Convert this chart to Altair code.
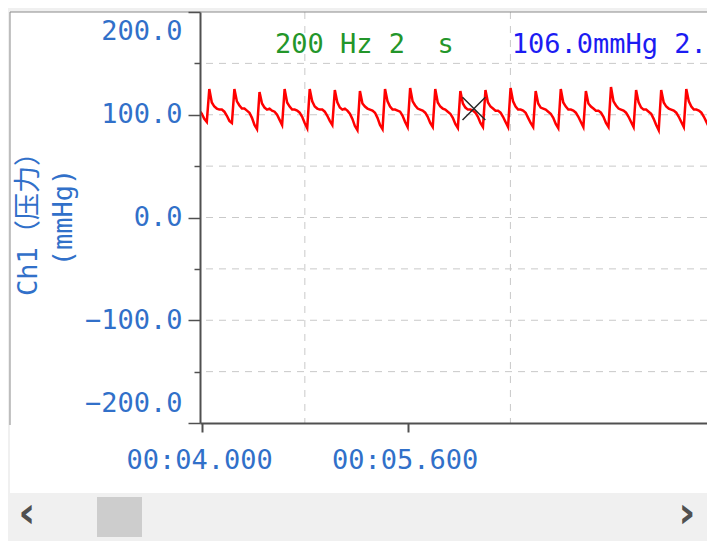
import altair as alt
import pandas as pd

# ---------------- data ----------------
SAMPLE_START = 3.9782     # s, time of first sample
SAMPLE_STEP = 0.01954     # s, sample interval of the drawn trace

pressure = [
    104, 101, 96, 93,
    125, 112, 108, 106, 105, 105, 103, 99, 94, 92,
    125, 113, 109, 106, 106, 104, 102, 97, 90, 86,
    122, 111, 107, 105, 106, 104, 103, 100, 95, 90,
    125, 112, 108, 105, 105, 104, 102, 98, 92, 87,
    125, 113, 108, 106, 105, 105, 103, 99, 94, 90,
    124, 112, 107, 105, 106, 104, 101, 96, 89, 85,
    123, 111, 108, 106, 105, 104, 102, 97, 90, 86,
    125, 113, 108, 105, 105, 104, 103, 99, 93, 88,
    126, 113, 109, 106, 105, 104, 102, 98, 92, 88,
    125, 112, 108, 106, 105, 103, 101, 97, 91, 87,
    123, 111, 107, 105, 105, 104, 102, 98, 92, 88,
    124, 112, 108, 106, 104, 104, 102, 98, 93, 88,
    126, 113, 108, 105, 105, 104, 102, 97, 92, 88,
    123, 111, 107, 106, 105, 103, 101, 97, 91, 87,
    125, 112, 108, 105, 105, 104, 102, 98, 93, 88,
    123, 111, 108, 106, 104, 104, 102, 98, 92, 88,
    127, 113, 109, 106, 105, 104, 102, 98, 93, 88,
    124, 112, 107, 105, 105, 103, 101, 96, 90, 85,
    124, 112, 108, 106, 105, 104, 102, 98, 93, 88,
    125, 113, 108, 105, 105, 104, 102, 98, 93, 88,
    124, 112, 108, 106, 105, 104, 102, 98, 93, 89,
]
time = [SAMPLE_START + i * SAMPLE_STEP for i in range(len(pressure))]

x_domain = [3.984, 7.93]
y_domain = [-200, 200]
x_tick_values = [4.0, 5.6]
x_grid_values = [4.8, 6.4]
y_tick_values = [-200, -150, -100, -50, 0, 50, 100, 150, 200]
y_grid_values = [-150, -100, -50, 0, 50, 100, 150]

cursor_t = [6.116]
cursor_p = [106.0]

note_t = [4.568, 6.41]
note_p = [168, 168]
note_text = ["200 Hz 2\u00a0\u00a0s", "106.0mmHg 2.1"]
note_color = ["#23962a", "#1c1cf2"]

y_title = ["Ch1（压力）", "(mmHg)"]

# ---------------- style ----------------
FONT = "DejaVu Sans Mono, Noto Sans CJK SC, monospace"
AXIS_BLUE = "#3170c9"
AXIS_GRAY = "#505050"
FS = 27
W, H = 507, 411

x_scale = alt.Scale(domain=x_domain, nice=False, zero=False)
y_scale = alt.Scale(domain=y_domain, nice=False, zero=False)

x_axis = alt.Axis(
    values=x_tick_values,
    labelExpr="'00:0' + format(datum.value, '.3f')",
    grid=False, title=None,
    domainColor=AXIS_GRAY, domainWidth=2,
    tickColor=AXIS_GRAY, tickWidth=2, tickSize=9,
    labelFont=FONT, labelFontSize=FS, labelColor=AXIS_BLUE,
    labelPadding=15, labelFlush=False, labelOffset=-3, zindex=1,
)
y_axis = alt.Axis(
    values=y_tick_values,
    labelExpr="datum.value % 100 === 0 ? format(datum.value, '.1f') : ''",
    grid=False,
    title=y_title,
    domainColor=AXIS_GRAY, domainWidth=2,
    tickColor=AXIS_GRAY, tickWidth=1.5,
    tickSize={"condition": {"test": "datum.value % 100 === 0", "value": 12}, "value": 6},
    labelFont=FONT, labelFontSize=FS, labelColor=AXIS_BLUE,
    labelPadding=6, labelFlush=True, labelFlushOffset=-6,
    titleFont=FONT, titleFontSize=27, titleFontWeight="normal", titleColor=AXIS_BLUE,
    titleAngle=270, titleX=-172, titleY=205, titleAnchor="middle",
    titleBaseline="middle", titleLineHeight=35, titleAlign="center",
    zindex=1,
)

X = alt.X("t:Q", scale=x_scale, axis=x_axis)
Y = alt.Y("p:Q", scale=y_scale, axis=y_axis)

one = pd.DataFrame({"k": [0]})

panel = alt.Chart(one).mark_rect(color="white").encode(
    x=alt.value(-190), x2=alt.value(W), y=alt.value(0), y2=alt.value(481)
)

hgrid = alt.Chart(pd.DataFrame({"p": y_grid_values})).mark_rule(
    color="#c9c9c9", strokeWidth=1, strokeDash=[7, 6]
).encode(y=Y)

vgrid = alt.Chart(pd.DataFrame({"t": x_grid_values})).mark_rule(
    color="#c9c9c9", strokeWidth=1, strokeDash=[7, 7]
).encode(x=X)

trace = alt.Chart(pd.DataFrame({"t": time, "p": pressure})).mark_line(
    color="#ff0000", strokeWidth=2.5, clip=True
).encode(x=X, y=Y)

cursor = alt.Chart(pd.DataFrame({"t": cursor_t, "p": cursor_p})).mark_point(
    shape="M-1,-1L1,1M-1,1L1,-1", size=520, filled=False,
    stroke="#2a2a2a", strokeWidth=1.5, opacity=1
).encode(x=X, y=Y)

notes = alt.Chart(pd.DataFrame({
    "t": note_t, "p": note_p, "txt": note_text, "c": note_color
})).mark_text(
    align="left", baseline="middle", font=FONT, fontSize=FS, clip=True
).encode(
    x=X, y=Y,
    text="txt:N",
    color=alt.Color("c:N", scale=None),
)

frame_left = alt.Chart(one).mark_rule(color="#8a8a8a", strokeWidth=1).encode(
    x=alt.value(-190), y=alt.value(0), y2=alt.value(413)
)
frame_top = alt.Chart(one).mark_rule(color="#8a8a8a", strokeWidth=1).encode(
    x=alt.value(-190), x2=alt.value(W), y=alt.value(0)
)

thumb = alt.Chart(one).mark_rect(color="#cdcdcd").encode(
    x=alt.value(-103), x2=alt.value(-58), y=alt.value(485), y2=alt.value(525)
)

arrow_style = dict(font="DejaVu Sans", fontSize=42, fontWeight="bold",
                   color="#505050", align="center", baseline="middle")
arrow_left = alt.Chart(pd.DataFrame({"a": ["‹"]})).mark_text(**arrow_style).encode(
    x=alt.value(-173), y=alt.value(502), text="a:N"
)
arrow_right = alt.Chart(pd.DataFrame({"a": ["›"]})).mark_text(**arrow_style).encode(
    x=alt.value(487), y=alt.value(502), text="a:N"
)

chart = alt.layer(
    panel, hgrid, vgrid, trace, cursor, notes, frame_left, frame_top, thumb,
    arrow_left, arrow_right
).properties(
    width=W, height=H,
    padding={"left": 192, "top": 4, "right": 0, "bottom": 118},
    autosize=alt.AutoSizeParams(type="none"),
    background="#f0f0f0",
).configure_view(strokeWidth=0)

chart.save("out.html", embed_options={"renderer": "svg", "actions": False})
